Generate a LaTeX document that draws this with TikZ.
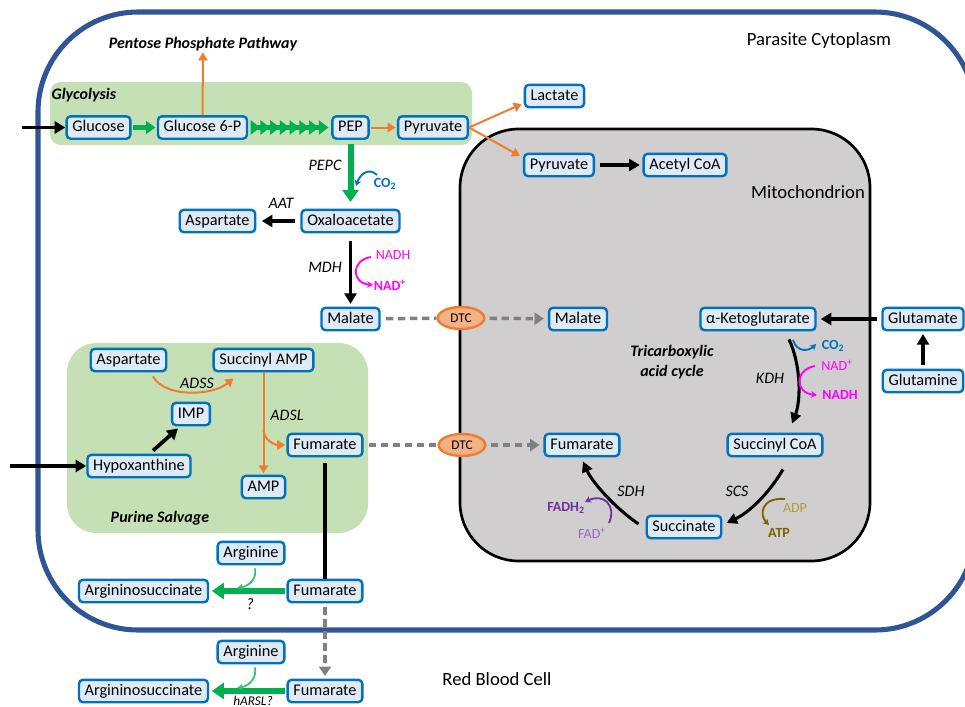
\documentclass[tikz,border=0pt]{standalone}
\usepackage{fontspec}
\setmainfont{Carlito}
\usetikzlibrary{arrows.meta,shapes.geometric,calc}
\definecolor{cellblue}{RGB}{47,85,151}
\definecolor{nodefill}{RGB}{222,235,247}
\definecolor{nodeline}{RGB}{0,112,192}
\definecolor{glgreen}{RGB}{197,224,180}
\definecolor{arrgreen}{RGB}{0,176,80}
\definecolor{orng}{RGB}{237,125,49}
\definecolor{dtcfill}{RGB}{244,177,131}
\definecolor{mitogray}{RGB}{208,206,206}
\definecolor{dgray}{RGB}{128,128,128}
\definecolor{mag}{RGB}{255,0,255}
\definecolor{purp}{RGB}{112,48,160}
\definecolor{lpurp}{RGB}{160,100,200}
\definecolor{olive}{RGB}{127,96,0}
\definecolor{lolive}{RGB}{175,155,60}
\begin{document}
\begin{tikzpicture}[x=0.75pt,y=-0.75pt,
  met/.style={draw=nodeline, fill=nodefill, line width=1.8pt, rounded corners=3pt,
    inner xsep=4.3pt, inner ysep=0pt, minimum height=16.8pt, text height=8.8pt, text depth=2.5pt,
    font=\fontsize{12.2}{14}\selectfont},
  lab/.style={font=\fontsize{12}{14}\selectfont\itshape, inner sep=1pt},
  blab/.style={font=\fontsize{12}{15}\selectfont\bfseries\itshape, inner sep=1pt},
  big/.style={font=\fontsize{14}{16}\selectfont, inner sep=1pt},
  sm/.style={font=\fontsize{10.5}{12}\selectfont, inner sep=0pt},
  smb/.style={font=\fontsize{10.5}{12}\selectfont\bfseries, inner sep=0pt},
  dtc/.style={ellipse, draw=orng, fill=dtcfill, line width=1.8pt, minimum width=35pt,
    minimum height=16.5pt, inner sep=0pt, font=\fontsize{10}{11}\selectfont},
  blk/.style={line width=2.8pt, -{Triangle[length=8pt,width=9pt]}},
  tca/.style={line width=2.3pt, -{Triangle[length=8pt,width=8pt]}},
  grn/.style={arrgreen, line width=3.8pt, -{Triangle[length=7pt,width=9.5pt]}},
  grnb/.style={arrgreen, line width=4.5pt, -{Triangle[length=9pt,width=12pt]}},
  org/.style={orng, line width=1.5pt, -{Triangle[length=6pt,width=7pt]}},
  dsh/.style={dgray, line width=2.6pt, dash pattern=on 5.5pt off 3.5pt},
  dsha/.style={dsh, -{Triangle[length=7pt,width=9pt]}},
  cof/.style={line width=1.4pt, -{Stealth[length=4.5pt,width=5pt]}},
]
\useasboundingbox (0,0) rectangle (965,707);
% compartments
\draw[cellblue, line width=3.8pt, rounded corners=75pt] (38,12) rectangle (975,630);
\draw[line width=2pt, fill=mitogray, rounded corners=44pt] (460,129) rectangle (870,561);
\fill[glgreen, rounded corners=8pt] (50,82) rectangle (472,145);
\fill[glgreen, rounded corners=22pt] (67,343) rectangle (368,533);

% compartment labels
\node[blab, anchor=west] (tglyc) at (50,95) {Glycolysis};
\node[blab] (tppp) at (203,44) {Pentose Phosphate Pathway};
\node[blab] (tpur) at (160,518) {Purine Salvage};
\node[big] (tcyt) at (819,41) {Parasite Cytoplasm};
\node[big] (tmito) at (808,192) {Mitochondrion};
\node[big] (trbc) at (497,679) {Red Blood Cell};
\node[blab, align=center] (ttca) at (672,362) {Tricarboxylic\\acid cycle};

% metabolites
\node[met] (glc) at (98.5,127.5) {Glucose};
\node[met] (g6p) at (202.5,127.5) {Glucose 6-P};
\node[met] (pep) at (350.5,127.5) {PEP};
\node[met] (pyr) at (433,127.5) {Pyruvate};
\node[met] (lac) at (554.5,96) {Lactate};
\node[met] (pyrm) at (559,165) {Pyruvate};
\node[met] (acoa) at (685,165) {Acetyl CoA};
\node[met] (asp1) at (217.5,221) {Aspartate};
\node[met] (oaa) at (350.5,221) {Oxaloacetate};
\node[met] (mal) at (350.5,319) {Malate};
\node[dtc] (dtc1) at (461,318) {DTC};
\node[met] (malm) at (578,319) {Malate};
\node[met] (akg) at (758,319) {α-Ketoglutarate};
\node[met] (glu) at (923,319) {Glutamate};
\node[met] (gln) at (923,381) {Glutamine};
\node[met] (scoa) at (775,445) {Succinyl CoA};
\node[met] (fumm) at (582,445) {Fumarate};
\node[met] (suc) at (684,527) {Succinate};
\node[met] (asp2) at (128.5,360) {Aspartate};
\node[met] (samp) at (263.5,360) {Succinyl AMP};
\node[met] (imp) at (191,414) {IMP};
\node[met] (hyp) at (139,466) {Hypoxanthine};
\node[met] (fump) at (325,445) {Fumarate};
\node[met] (amp) at (263.5,487) {AMP};
\node[dtc] (dtc2) at (462,445) {DTC};
\node[met] (arg1) at (251,553) {Arginine};
\node[met] (ars1) at (143.5,591) {Argininosuccinate};
\node[met] (fum2) at (325,591) {Fumarate};
\node[met] (arg2) at (251,652) {Arginine};
\node[met] (ars2) at (143.5,691) {Argininosuccinate};
\node[met] (fum3) at (325,691) {Fumarate};

% enzyme labels
\node[lab] (lpepc) at (325,165) {PEPC};
\node[lab] (laat) at (281,203) {AAT};
\node[lab] (lmdh) at (325,267) {MDH};
\node[lab] (lkdh) at (770,378) {KDH};
\node[lab] (lsdh) at (631,491) {SDH};
\node[lab] (lscs) at (737,491) {SCS};
\node[lab] (ladss) at (197,383) {ADSS};
\node[lab] (ladsl) at (287,415) {ADSL};
\node[lab] (lq) at (250,604) {?};
\node[font=\fontsize{10}{11}\selectfont\itshape, inner sep=0pt, text height=7pt, text depth=0pt] (lharsl) at (253,700.5) {hARSL?};

% cofactors
\node[smb, text=nodeline] (co2a) at (385,184) {CO\textsubscript{2}};
\node[sm, text=mag] (nadh1) at (393,255) {NADH};
\node[smb, text=mag] (nad1) at (390,285) {NAD\textsuperscript{+}};
\node[smb, text=nodeline] (co2b) at (833,346) {CO\textsubscript{2}};
\node[sm, text=mag] (nad2) at (837,365) {NAD\textsuperscript{+}};
\node[smb, text=mag] (nadh2) at (840,395) {NADH};
\node[smb, text=purp] (fadh) at (566,508) {FADH\textsubscript{2}};
\node[sm, text=lpurp] (fad) at (592,533) {FAD\textsuperscript{+}};
\node[sm, text=lolive] (adp) at (795,508) {ADP};
\node[smb, text=olive] (atp) at (779,533) {ATP};

% coordinates for free ends
\coordinate (inG) at (22,127.5);
\coordinate (inH) at (10,466);
\coordinate (j1) at (237,588);
\coordinate (j2) at (237,688);

% glycolysis
\draw[blk] (inG) -- (glc);
\draw[grn, shorten <=1pt, shorten >=1pt] (glc) -- (g6p);
\draw[arrgreen, line width=3.75pt, shorten <=2pt, shorten >=6pt] (g6p) -- (pep);
\draw[arrgreen, line width=3.75pt, shorten <=2pt, shorten >=2pt,
  -{Triangle[length=7.3pt,width=10.5pt,sep=0pt]Triangle[length=7.3pt,width=10.5pt,sep=0pt]Triangle[length=7.3pt,width=10.5pt,sep=0pt]Triangle[length=7.3pt,width=10.5pt,sep=0pt]Triangle[length=7.3pt,width=10.5pt,sep=0pt]Triangle[length=7.3pt,width=10.5pt,sep=0pt]Triangle[length=7.3pt,width=10.5pt,sep=0pt]Triangle[length=7.3pt,width=10.5pt,sep=0pt]}] (g6p) -- (pep);
\draw[org, shorten <=1pt, shorten >=1pt] (pep) -- (pyr);
\draw[org] (g6p) -- (tppp);
\draw[org] (pyr.east) -- ([shift={(-2,8)}]lac.west);
\draw[org] (pyr.east) -- ([shift={(-3,-9)}]pyrm.west);
\draw[blk, shorten <=4pt, shorten >=2pt] (pyrm) -- (acoa);

% cytoplasm
\draw[grnb, shorten <=3pt, shorten >=5pt] (pep) -- (oaa);
\draw[blk, shorten <=4pt, shorten >=4pt] (oaa) -- (asp1);
\draw[blk, shorten <=6pt, shorten >=2pt] (oaa) -- (mal);
\draw[nodeline, cof] (377,175) .. controls (369,167) and (360,174) .. (356,186);
\draw[mag, cof] (371,257) .. controls (351,260) and (351,283) .. (373,285);

% DTC transport
\draw[dsh, shorten <=4pt] (mal) -- (dtc1);
\draw[dsha, shorten <=3pt, shorten >=3pt] (dtc1) -- (malm);
\draw[dsh, shorten <=4pt] (fump) -- (dtc2);
\draw[dsha, shorten <=3pt, shorten >=3pt] (dtc2) -- (fumm);

% TCA
\draw[blk, shorten <=3pt, shorten >=3pt] (glu) -- (akg);
\draw[blk, shorten <=3pt, shorten >=2pt] (gln) -- (glu);
\draw[tca] ([shift={(31,8)}]akg.south) .. controls (801,365) and (801,400) .. ([shift={(17,-9)}]scoa.north);
\draw[tca] ([shift={(8,12)}]scoa.south) .. controls (768,495) and (748,513) .. ([shift={(4,-4)}]suc.east);
\draw[tca] ([shift={(-7,-3)}]suc.west) .. controls (615,508) and (592,482) .. ([shift={(1,4)}]fumm.south);
\draw[nodeline, cof] (793,340) .. controls (797,353) and (809,351) .. (816,344);
\draw[mag, cof] (815,366) .. controls (794,370) and (795,393) .. (817,395);
\draw[purp, cof] (609,523) .. controls (617,505) and (603,493) .. (585,502);
\draw[olive, cof] (785,499) .. controls (761,497) and (759,515) .. (769,525);

% purine salvage
\draw[blk] (inH) -- (hyp);
\draw[blk] ([shift={(14,-3)}]hyp.north) -- ([shift={(-13,2)}]imp.south);
\draw[org] ([shift={(24.5,4)}]asp2.south) .. controls (165,398) and (212,396) .. ([shift={(-30,6)}]samp.south);
\draw[org, shorten >=1pt] (samp.south) -- (amp.north);
\draw[org] ($(samp.south)+(0,57)$) to[out=-90,in=180] ([xshift=-1pt]fump.west);

% arginine / fumarate
\draw[line width=2.4pt, shorten <=4pt] (fump) -- (fum2);
\draw[grnb, shorten <=1pt, shorten >=2pt] (fum2) -- (ars1);
\draw[arrgreen!80!white, cof, line width=1.3pt] ([shift={(4,3)}]arg1.south) .. controls (257,578) and (250,586) .. (j1);
\draw[dsha, shorten <=3pt, shorten >=2pt] (fum2) -- (fum3);
\draw[grnb, shorten <=1pt, shorten >=2pt] (fum3) -- (ars2);
\draw[arrgreen!80!white, cof, line width=1.3pt] ([shift={(4,3)}]arg2.south) .. controls (257,677) and (250,686) .. (j2);
\end{tikzpicture}
\end{document}
